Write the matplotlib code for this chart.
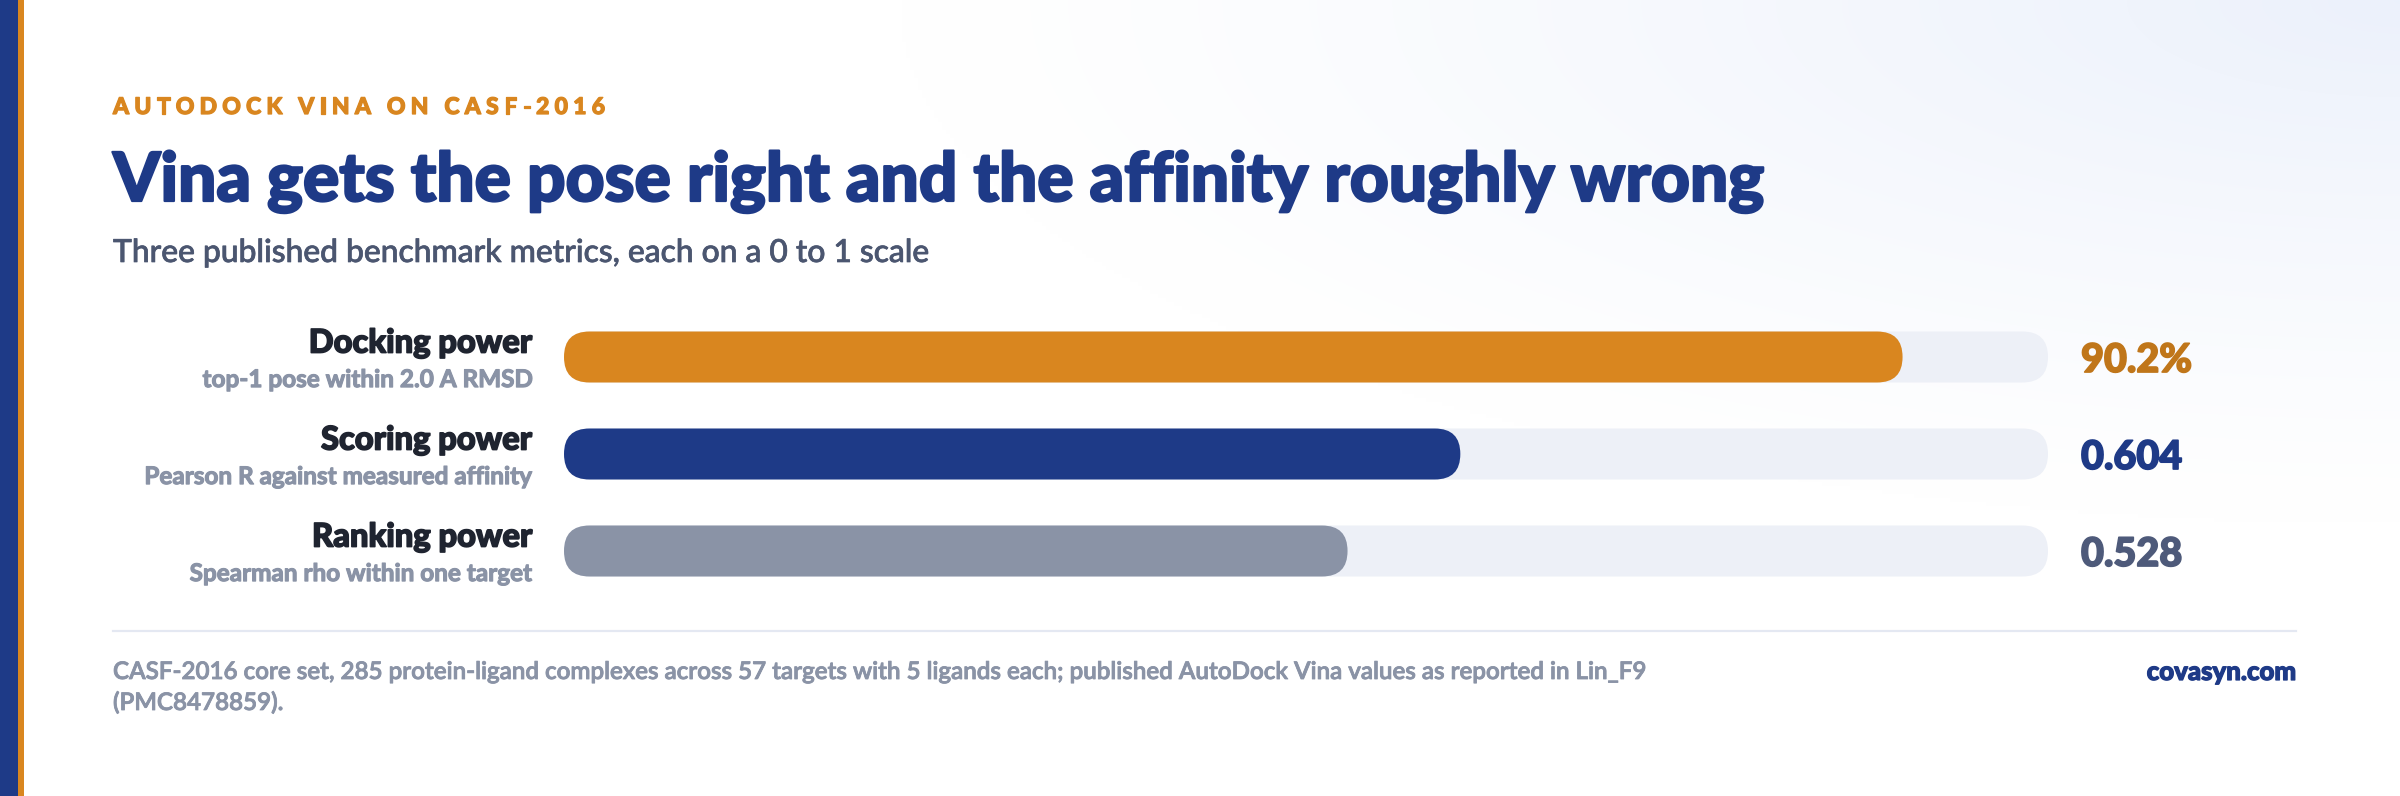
import numpy as np
import matplotlib
matplotlib.use("Agg")
import matplotlib.pyplot as plt
import matplotlib.patheffects as pe
from matplotlib.patches import FancyBboxPatch, Rectangle
from matplotlib.lines import Line2D

# ---------------- data ----------------
metrics = ["Docking power", "Scoring power", "Ranking power"]
descriptions = ["top-1 pose within 2.0 A RMSD",
                "Pearson R against measured affinity",
                "Spearman rho within one target"]
values = [0.902, 0.604, 0.528]
value_labels = ["90.2%", "0.604", "0.528"]
bar_colors = ["#D9861F", "#1E3A87", "#8A93A6"]
value_colors = ["#C0761A", "#1E3A87", "#4E5A7A"]

eyebrow = "AUTODOCK VINA ON CASF-2016"
title = "Vina gets the pose right and the affinity roughly wrong"
subtitle = "Three published benchmark metrics, each on a 0 to 1 scale"
footer1 = ("CASF-2016 core set, 285 protein-ligand complexes across 57 targets with 5 ligands each; "
           "published AutoDock Vina values as reported in Lin_F9")
footer2 = "(PMC8478859)."
brand = "covasyn.com"

# ---------------- figure ----------------
W, H = 2400, 796
DPI = 100
plt.rcParams['font.family'] = ['Lato', 'DejaVu Sans']
fig = plt.figure(figsize=(W / DPI, H / DPI), dpi=DPI)
fig.patch.set_facecolor("white")
renderer = fig.canvas.get_renderer()


def fx(x):
    return x / W


def fy(y):
    return 1 - y / H


def thick(color, lw):
    return [pe.withStroke(linewidth=lw, foreground=color)]


# background gradient (soft tint top-right)
bg = fig.add_axes([0, 0, 1, 1], zorder=0)
bg.set_axis_off()
yy, xx = np.mgrid[0:H:4, 0:W:4]
d = np.sqrt(((xx - W) / 1500.0) ** 2 + (yy / 520.0) ** 2)
t = np.clip(1 - d, 0, 1) ** 1.2
tint = np.array([0.925, 0.945, 0.985])
img = np.ones(yy.shape + (3,)) * (1 - t[..., None]) + tint * t[..., None]
bg.imshow(img, extent=[0, W, H, 0], aspect='auto', interpolation='bilinear')
bg.set_xlim(0, W)
bg.set_ylim(H, 0)

# left stripes
bg.add_patch(Rectangle((0, 0), 18, H, color="#1E3A87", lw=0))
bg.add_patch(Rectangle((18, 0), 6, H, color="#D9861F", lw=0))


def fit_width(txt, target):
    bb = txt.get_window_extent(renderer)
    txt.set_fontsize(txt.get_fontsize() * target / bb.width)


def text_w(s, **kw):
    tt = fig.text(0, 0, s, **kw)
    w = tt.get_window_extent(renderer).width
    tt.remove()
    return w


# eyebrow with letter spacing
eb_kw = dict(fontsize=16.5, fontweight='black', color="#D9861F")
x0, x1 = 113, 605
bar_w = text_w("|", **eb_kw)
nat = text_w(eyebrow, **eb_kw)
sp = (x1 - x0 - nat) / (len(eyebrow) - 1)
for i, ch in enumerate(eyebrow):
    if ch == " ":
        continue
    pre = text_w(eyebrow[:i] + "|", **eb_kw) - bar_w if i > 0 else 0
    fig.text(fx(x0 + pre + i * sp), fy(114), ch, ha='left', va='baseline',
             path_effects=thick("#D9861F", 0.9), **eb_kw)

# title & subtitle
tt = fig.text(fx(113), fy(201), title, fontsize=44, fontweight='black',
              color="#1E3A87", ha='left', va='baseline',
              path_effects=thick("#1E3A87", 1.6))
fit_width(tt, 1765 - 113)
st = fig.text(fx(113), fy(262), subtitle, fontsize=22, fontweight='medium',
              color="#4B5670", ha='left', va='baseline',
              path_effects=thick("#4B5670", 0.5))
fit_width(st, 928 - 113)

# ---------------- bars ----------------
BX0, BX1 = 564, 2048
centers_px = [357, 454, 551]
pitch = 97.0
ytop = centers_px[0] - 0.6 * pitch
ybot = centers_px[-1] + 0.6 * pitch
ax = fig.add_axes([fx(BX0), fy(ybot), (BX1 - BX0) / W, (ybot - ytop) / H], zorder=2)
ax.set_xlim(0, 1)
ax.set_ylim(2.6, -0.6)
ax.set_axis_off()
ax.patch.set_alpha(0)

bar_h_px = 51.0
h = bar_h_px / pitch
ma = (BX1 - BX0) / pitch
r = (bar_h_px / 2) / (BX1 - BX0)


def rbar(x0_, w_, yc, color, z):
    p = FancyBboxPatch((x0_, yc - h / 2), w_, h,
                       boxstyle=f"round,pad=0,rounding_size={r}",
                       mutation_aspect=ma, fc=color, ec='none', lw=0, zorder=z)
    ax.add_patch(p)


lab_x = (532 - BX0) / (BX1 - BX0)
val_x = (2081 - BX0) / (BX1 - BX0)
main_objs, sub_objs = [], []
for i, (m, dsc, v, vl, c, vc) in enumerate(zip(metrics, descriptions, values,
                                                value_labels, bar_colors, value_colors)):
    rbar(0, 1, i, "#EDF0F7", 1)
    rbar(0, v, i, c, 2)
    main_objs.append(ax.text(lab_x, i - 0.045, m, ha='right', va='baseline',
                             fontsize=22, fontweight='black', color="#1F2430", clip_on=False,
                             path_effects=thick("#1F2430", 1.1)))
    sub_objs.append(ax.text(lab_x, i + 0.31, dsc, ha='right', va='baseline',
                            fontsize=15, fontweight='bold', color="#8A93A6", clip_on=False,
                            path_effects=thick("#8A93A6", 0.8)))
    vt = ax.text(val_x, i + 0.155, vl, ha='left', va='baseline', fontsize=27,
                 fontweight='black', color=vc, clip_on=False,
                 path_effects=thick(vc, 1.2))
    if i == 0:
        fit_width(vt, 111)
        vsize = vt.get_fontsize()
    else:
        vt.set_fontsize(vsize)

fit_width(main_objs[0], 223)
for o in main_objs[1:]:
    o.set_fontsize(main_objs[0].get_fontsize())
fit_width(sub_objs[1], 388)
for o in sub_objs:
    o.set_fontsize(sub_objs[1].get_fontsize())

# ---------------- footer ----------------
bg.add_line(Line2D([113, 2296], [631, 631], color="#E4E8F2", lw=1.6))
f1 = fig.text(fx(113), fy(679), footer1, fontsize=14, fontweight='semibold',
              color="#8A93A6", ha='left', va='baseline',
              path_effects=thick("#8A93A6", 0.6))
fit_width(f1, 1652 - 113)
fig.text(fx(113), fy(710), footer2, fontsize=f1.get_fontsize(), fontweight='semibold',
         color="#8A93A6", ha='left', va='baseline',
         path_effects=thick("#8A93A6", 0.6))
bt = fig.text(fx(2296), fy(680), brand, fontsize=15, fontweight='black',
              color="#1E3A87", ha='right', va='baseline',
              path_effects=thick("#1E3A87", 0.9))
fit_width(bt, 150)

fig.savefig("out.png", dpi=DPI, facecolor="white")
